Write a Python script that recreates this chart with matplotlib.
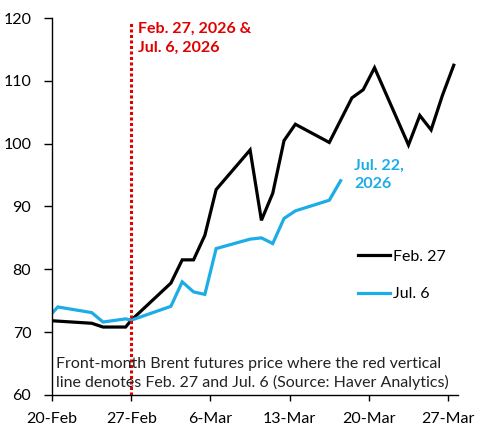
import matplotlib
matplotlib.use("Agg")
import matplotlib.pyplot as plt

plt.rcParams["font.family"] = ["Lato", "DejaVu Sans"]

# x positions are days after 20-Feb
feb27_days = [0, 3.5, 4.5, 6.5, 7.0, 10.5, 11.5, 12.5, 13.5, 14.5, 17.5, 18.5,
              19.5, 20.5, 21.5, 24.5, 26.5, 27.5, 28.5, 31.5, 32.5, 33.5, 34.5, 35.5]
feb27_price = [71.8, 71.4, 70.8, 70.8, 71.9, 77.8, 81.5, 81.5, 85.4, 92.7, 99.0, 87.8,
               92.1, 100.5, 103.1, 100.2, 107.3, 108.6, 112.1, 99.8, 104.5, 102.2, 107.7, 112.5]

jul6_days = [0, 0.5, 3.5, 4.5, 6.5, 7.0, 10.5, 11.5, 12.5, 13.5, 14.5, 17.5, 18.5,
             19.5, 20.5, 21.5, 24.5, 25.5]
jul6_price = [73.0, 74.0, 73.1, 71.6, 72.1, 71.9, 74.1, 78.0, 76.4, 76.0, 83.3, 84.8, 85.0,
              84.1, 88.1, 89.3, 91.0, 94.1]

tick_days = [0, 7, 14, 21, 28, 35]
tick_labels = ["20-Feb", "27-Feb", "6-Mar", "13-Mar", "20-Mar", "27-Mar"]
event_day = 7

black = "#000000"
blue = "#1cace6"
red = "#e00000"

fig = plt.figure(figsize=(4.87, 4.32), dpi=100)
ax = fig.add_axes([0.107, 0.086, 0.834, 0.872])

ax.plot(feb27_days, feb27_price, color=black, lw=2.3, label="Feb. 27",
        solid_joinstyle="miter")
ax.plot(jul6_days, jul6_price, color=blue, lw=2.3, label="Jul. 6",
        solid_joinstyle="miter")
ax.axvline(event_day, ymin=0, ymax=0.988, color=red, lw=2.2, ls=(0, (1, 0.8)))

ax.set_xlim(0, 35.9)
ax.set_ylim(60, 120)
ax.set_yticks(range(60, 121, 10))
ax.set_xticks(tick_days)
ax.set_xticklabels(tick_labels)

for s in ["top", "right"]:
    ax.spines[s].set_visible(False)
for s in ["left", "bottom"]:
    ax.spines[s].set_linewidth(1.0)
ax.tick_params(axis="y", length=6, width=1, pad=9, labelsize=11.5)
ax.tick_params(axis="x", length=4, width=1, pad=8, labelsize=11.5)

ax.text(7.6, 119.4, "Feb. 27, 2026 &\nJul. 6, 2026", color=red, fontsize=11.5,
        fontweight="bold", va="top", ha="left", linespacing=1.4)
ax.text(26.7, 97.6, "Jul. 22,\n2026", color=blue, fontsize=11.5,
        fontweight="bold", va="top", ha="left", linespacing=1.35)

ax.text(0.35, 60.7, "Front-month Brent futures price where the red vertical\n"
        "line denotes Feb. 27 and Jul. 6 (Source: Haver Analytics)",
        color="#222222", fontsize=11.5, va="bottom", ha="left", linespacing=1.4)

ax.legend(loc="upper left", bbox_to_anchor=(0.754, 0.385), frameon=False,
          fontsize=11.5, handlelength=2.0, handletextpad=0.15, labelspacing=1.45,
          borderpad=0, borderaxespad=0)

fig.savefig("out.png", dpi=100)
